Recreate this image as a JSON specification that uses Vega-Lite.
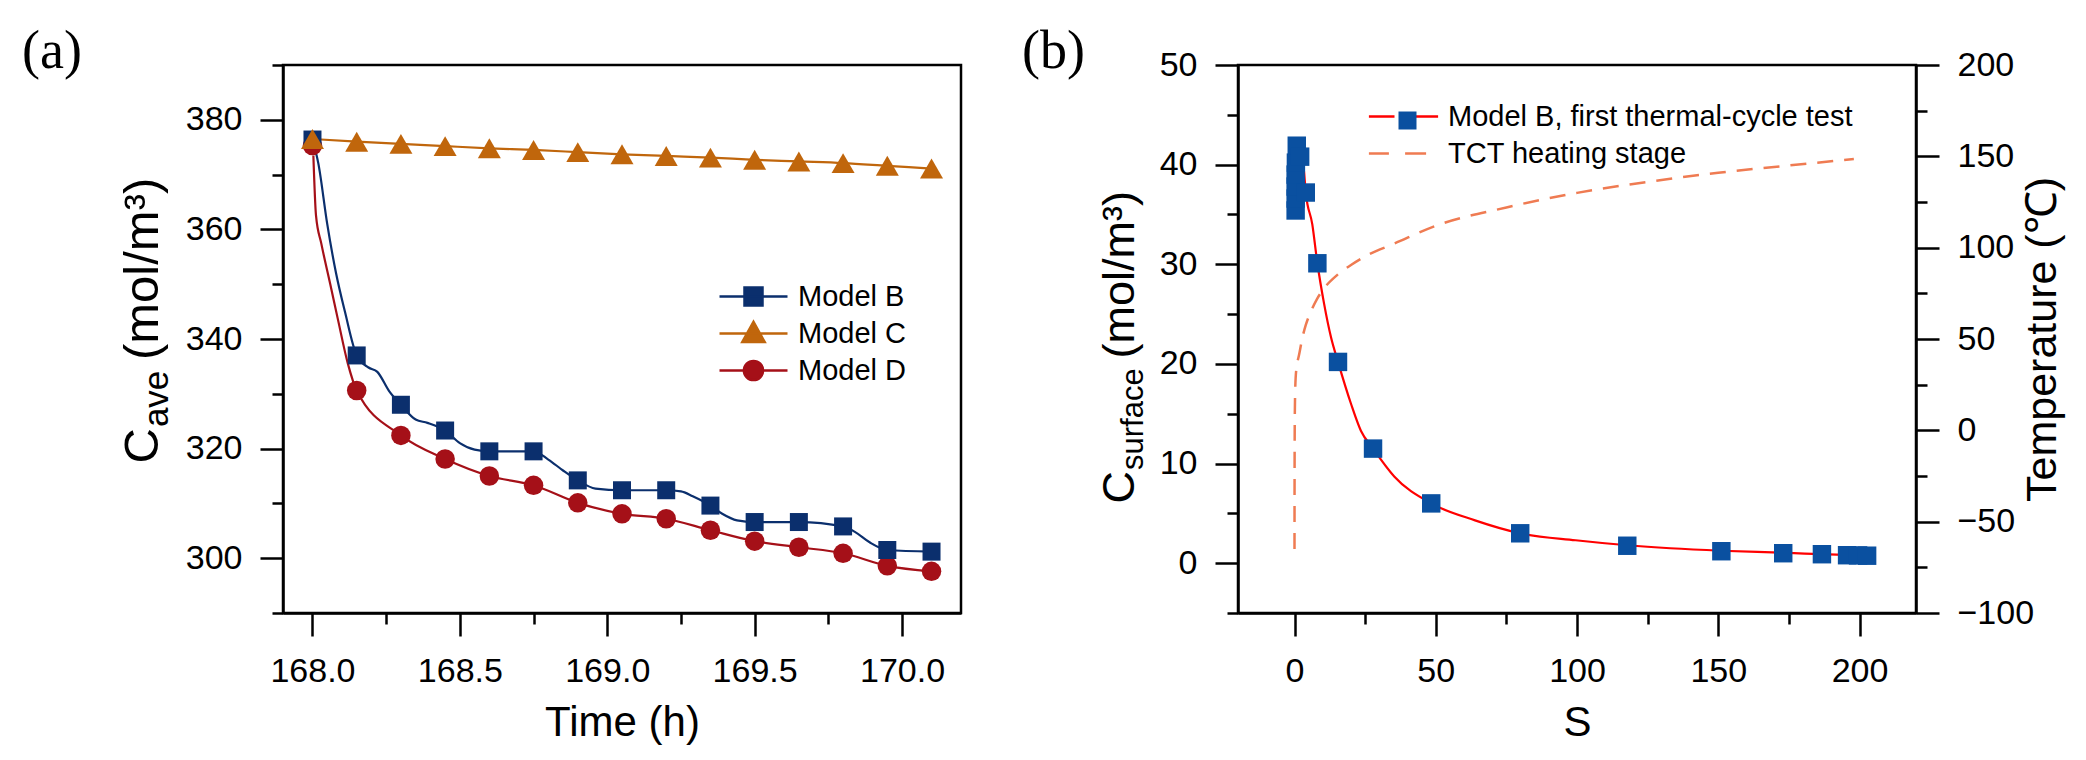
{
  "$schema": "https://vega.github.io/schema/vega-lite/v6.json",
  "padding": {"left": 20, "top": 23, "right": 0, "bottom": 0},
  "background": "white",
  "spacing": 57,
  "datasets": {
    "ptsA": [
      {"t": 168.0, "c": 375.3, "model": "Model D"}, {"t": 168.15, "c": 330.6, "model": "Model D"}, {"t": 168.3, "c": 322.4, "model": "Model D"}, {"t": 168.45, "c": 318.1, "model": "Model D"}, {"t": 168.6, "c": 315.0, "model": "Model D"}, {"t": 168.75, "c": 313.3, "model": "Model D"}, {"t": 168.9, "c": 310.1, "model": "Model D"}, {"t": 169.05, "c": 308.1, "model": "Model D"}, {"t": 169.2, "c": 307.2, "model": "Model D"}, {"t": 169.35, "c": 305.1, "model": "Model D"}, {"t": 169.5, "c": 303.1, "model": "Model D"}, {"t": 169.65, "c": 302.0, "model": "Model D"}, {"t": 169.8, "c": 300.9, "model": "Model D"}, {"t": 169.95, "c": 298.6, "model": "Model D"}, {"t": 170.1, "c": 297.6, "model": "Model D"},
      {"t": 168.0, "c": 376.4, "model": "Model B"}, {"t": 168.15, "c": 337.0, "model": "Model B"}, {"t": 168.3, "c": 328.0, "model": "Model B"}, {"t": 168.45, "c": 323.3, "model": "Model B"}, {"t": 168.6, "c": 319.5, "model": "Model B"}, {"t": 168.75, "c": 319.5, "model": "Model B"}, {"t": 168.9, "c": 314.2, "model": "Model B"}, {"t": 169.05, "c": 312.4, "model": "Model B"}, {"t": 169.2, "c": 312.4, "model": "Model B"}, {"t": 169.35, "c": 309.6, "model": "Model B"}, {"t": 169.5, "c": 306.6, "model": "Model B"}, {"t": 169.65, "c": 306.6, "model": "Model B"}, {"t": 169.8, "c": 305.8, "model": "Model B"}, {"t": 169.95, "c": 301.5, "model": "Model B"}, {"t": 170.1, "c": 301.2, "model": "Model B"},
      {"t": 168.0, "c": 376.5, "model": "Model C"}, {"t": 168.15, "c": 376.0, "model": "Model C"}, {"t": 168.3, "c": 375.6, "model": "Model C"}, {"t": 168.45, "c": 375.2, "model": "Model C"}, {"t": 168.6, "c": 374.8, "model": "Model C"}, {"t": 168.75, "c": 374.5, "model": "Model C"}, {"t": 168.9, "c": 374.1, "model": "Model C"}, {"t": 169.05, "c": 373.7, "model": "Model C"}, {"t": 169.2, "c": 373.4, "model": "Model C"}, {"t": 169.35, "c": 373.1, "model": "Model C"}, {"t": 169.5, "c": 372.7, "model": "Model C"}, {"t": 169.65, "c": 372.4, "model": "Model C"}, {"t": 169.8, "c": 372.1, "model": "Model C"}, {"t": 169.95, "c": 371.6, "model": "Model C"}, {"t": 170.1, "c": 371.1, "model": "Model C"}
    ],
    "linesA": [
      {"t": 168.0, "c": 376.4, "model": "Model B"}, {"t": 168.02, "c": 372.0, "model": "Model B"}, {"t": 168.05, "c": 361.0, "model": "Model B"}, {"t": 168.08, "c": 352.0, "model": "Model B"}, {"t": 168.11, "c": 345.0, "model": "Model B"}, {"t": 168.15, "c": 337.0, "model": "Model B"}, {"t": 168.19, "c": 334.8, "model": "Model B"}, {"t": 168.22, "c": 334.0, "model": "Model B"}, {"t": 168.26, "c": 330.5, "model": "Model B"}, {"t": 168.3, "c": 328.0, "model": "Model B"}, {"t": 168.35, "c": 325.3, "model": "Model B"}, {"t": 168.39, "c": 324.7, "model": "Model B"}, {"t": 168.45, "c": 323.3, "model": "Model B"}, {"t": 168.5, "c": 321.0, "model": "Model B"}, {"t": 168.55, "c": 319.8, "model": "Model B"}, {"t": 168.6, "c": 319.5, "model": "Model B"}, {"t": 168.75, "c": 319.5, "model": "Model B"}, {"t": 168.8, "c": 318.0, "model": "Model B"}, {"t": 168.85, "c": 316.0, "model": "Model B"}, {"t": 168.9, "c": 314.2, "model": "Model B"}, {"t": 168.96, "c": 312.7, "model": "Model B"}, {"t": 169.05, "c": 312.4, "model": "Model B"}, {"t": 169.2, "c": 312.4, "model": "Model B"}, {"t": 169.25, "c": 312.2, "model": "Model B"}, {"t": 169.29, "c": 311.3, "model": "Model B"}, {"t": 169.35, "c": 309.6, "model": "Model B"}, {"t": 169.39, "c": 308.1, "model": "Model B"}, {"t": 169.44, "c": 306.9, "model": "Model B"}, {"t": 169.5, "c": 306.6, "model": "Model B"}, {"t": 169.65, "c": 306.6, "model": "Model B"}, {"t": 169.8, "c": 305.8, "model": "Model B"}, {"t": 169.84, "c": 304.8, "model": "Model B"}, {"t": 169.89, "c": 302.9, "model": "Model B"}, {"t": 169.95, "c": 301.5, "model": "Model B"}, {"t": 170.1, "c": 301.2, "model": "Model B"},
      {"t": 168.0, "c": 376.5, "model": "Model C"}, {"t": 168.15, "c": 376.0, "model": "Model C"}, {"t": 168.3, "c": 375.6, "model": "Model C"}, {"t": 168.45, "c": 375.2, "model": "Model C"}, {"t": 168.6, "c": 374.8, "model": "Model C"}, {"t": 168.75, "c": 374.5, "model": "Model C"}, {"t": 168.9, "c": 374.1, "model": "Model C"}, {"t": 169.05, "c": 373.7, "model": "Model C"}, {"t": 169.2, "c": 373.4, "model": "Model C"}, {"t": 169.35, "c": 373.1, "model": "Model C"}, {"t": 169.5, "c": 372.7, "model": "Model C"}, {"t": 169.65, "c": 372.4, "model": "Model C"}, {"t": 169.8, "c": 372.1, "model": "Model C"}, {"t": 169.95, "c": 371.6, "model": "Model C"}, {"t": 170.1, "c": 371.1, "model": "Model C"},
      {"t": 168.003, "c": 373.5, "model": "Model D"}, {"t": 168.012, "c": 362.5, "model": "Model D"}, {"t": 168.03, "c": 357.4, "model": "Model D"}, {"t": 168.06, "c": 350.1, "model": "Model D"}, {"t": 168.087, "c": 343.4, "model": "Model D"}, {"t": 168.12, "c": 335.5, "model": "Model D"}, {"t": 168.15, "c": 330.6, "model": "Model D"}, {"t": 168.3, "c": 322.4, "model": "Model D"}, {"t": 168.45, "c": 318.1, "model": "Model D"}, {"t": 168.6, "c": 315.0, "model": "Model D"}, {"t": 168.75, "c": 313.3, "model": "Model D"}, {"t": 168.9, "c": 310.1, "model": "Model D"}, {"t": 169.05, "c": 308.1, "model": "Model D"}, {"t": 169.2, "c": 307.2, "model": "Model D"}, {"t": 169.35, "c": 305.1, "model": "Model D"}, {"t": 169.5, "c": 303.1, "model": "Model D"}, {"t": 169.65, "c": 302.0, "model": "Model D"}, {"t": 169.8, "c": 300.9, "model": "Model D"}, {"t": 169.95, "c": 298.6, "model": "Model D"}, {"t": 170.1, "c": 297.6, "model": "Model D"}
    ],
    "ptsB": [
      {"s": 0.4, "c": 35.4, "series": "Model B, first thermal-cycle test"}, {"s": 0.4, "c": 36.6, "series": "Model B, first thermal-cycle test"}, {"s": 0.4, "c": 37.8, "series": "Model B, first thermal-cycle test"}, {"s": 0.4, "c": 39.0, "series": "Model B, first thermal-cycle test"}, {"s": 0.5, "c": 40.2, "series": "Model B, first thermal-cycle test"}, {"s": 0.8, "c": 41.9, "series": "Model B, first thermal-cycle test"}, {"s": 2.0, "c": 40.8, "series": "Model B, first thermal-cycle test"}, {"s": 4.0, "c": 37.2, "series": "Model B, first thermal-cycle test"}, {"s": 8.1, "c": 30.1, "series": "Model B, first thermal-cycle test"}, {"s": 15.4, "c": 20.2, "series": "Model B, first thermal-cycle test"}, {"s": 27.8, "c": 11.5, "series": "Model B, first thermal-cycle test"}, {"s": 48.4, "c": 6.0, "series": "Model B, first thermal-cycle test"}, {"s": 79.9, "c": 3.0, "series": "Model B, first thermal-cycle test"}, {"s": 117.8, "c": 1.75, "series": "Model B, first thermal-cycle test"}, {"s": 151.1, "c": 1.2, "series": "Model B, first thermal-cycle test"}, {"s": 173.0, "c": 1.0, "series": "Model B, first thermal-cycle test"}, {"s": 186.7, "c": 0.9, "series": "Model B, first thermal-cycle test"}, {"s": 195.6, "c": 0.8, "series": "Model B, first thermal-cycle test"}, {"s": 199.5, "c": 0.78, "series": "Model B, first thermal-cycle test"}, {"s": 202.7, "c": 0.75, "series": "Model B, first thermal-cycle test"}
    ],
    "fitB": [
      {"s": 3.4, "c": 39.3, "series": "Model B, first thermal-cycle test"}, {"s": 4.0, "c": 37.2, "series": "Model B, first thermal-cycle test"}, {"s": 6.3, "c": 34.0, "series": "Model B, first thermal-cycle test"}, {"s": 8.1, "c": 30.1, "series": "Model B, first thermal-cycle test"}, {"s": 10.5, "c": 26.0, "series": "Model B, first thermal-cycle test"}, {"s": 12.9, "c": 22.7, "series": "Model B, first thermal-cycle test"}, {"s": 15.4, "c": 20.2, "series": "Model B, first thermal-cycle test"}, {"s": 20.0, "c": 16.0, "series": "Model B, first thermal-cycle test"}, {"s": 23.5, "c": 13.3, "series": "Model B, first thermal-cycle test"}, {"s": 27.8, "c": 11.5, "series": "Model B, first thermal-cycle test"}, {"s": 35.3, "c": 8.7, "series": "Model B, first thermal-cycle test"}, {"s": 48.4, "c": 6.0, "series": "Model B, first thermal-cycle test"}, {"s": 63.9, "c": 4.3, "series": "Model B, first thermal-cycle test"}, {"s": 79.9, "c": 3.0, "series": "Model B, first thermal-cycle test"}, {"s": 99.5, "c": 2.3, "series": "Model B, first thermal-cycle test"}, {"s": 117.8, "c": 1.8, "series": "Model B, first thermal-cycle test"}, {"s": 133.0, "c": 1.5, "series": "Model B, first thermal-cycle test"}, {"s": 151.0, "c": 1.25, "series": "Model B, first thermal-cycle test"}, {"s": 173.0, "c": 1.05, "series": "Model B, first thermal-cycle test"}, {"s": 192.0, "c": 0.85, "series": "Model B, first thermal-cycle test"}, {"s": 202.0, "c": 0.78, "series": "Model B, first thermal-cycle test"}
    ],
    "tempB": [
      {"s": 0.0, "temp": -65, "series": "TCT heating stage"}, {"s": 0.03, "temp": -22, "series": "TCT heating stage"}, {"s": 0.12, "temp": 10, "series": "TCT heating stage"}, {"s": 0.4, "temp": 28.5, "series": "TCT heating stage"}, {"s": 0.9, "temp": 36, "series": "TCT heating stage"}, {"s": 1.6, "temp": 41.2, "series": "TCT heating stage"}, {"s": 2.7, "temp": 50, "series": "TCT heating stage"}, {"s": 4.0, "temp": 57.7, "series": "TCT heating stage"}, {"s": 5.8, "temp": 65, "series": "TCT heating stage"}, {"s": 8.0, "temp": 72, "series": "TCT heating stage"}, {"s": 10.5, "temp": 77.8, "series": "TCT heating stage"}, {"s": 15.1, "temp": 85, "series": "TCT heating stage"}, {"s": 20.0, "temp": 90.5, "series": "TCT heating stage"}, {"s": 25.9, "temp": 96, "series": "TCT heating stage"}, {"s": 35.0, "temp": 102, "series": "TCT heating stage"}, {"s": 50.0, "temp": 112, "series": "TCT heating stage"}, {"s": 75.0, "temp": 122, "series": "TCT heating stage"}, {"s": 100.0, "temp": 130, "series": "TCT heating stage"}, {"s": 125.0, "temp": 136, "series": "TCT heating stage"}, {"s": 150.0, "temp": 141, "series": "TCT heating stage"}, {"s": 175.0, "temp": 145, "series": "TCT heating stage"}, {"s": 198.0, "temp": 148.5, "series": "TCT heating stage"}
    ]
  },
  "resolve": {"scale": {"color": "independent", "shape": "independent", "size": "independent"}},
  "hconcat": [
    {
      "width": 678,
      "height": 548,
      "title": {"text": "(a)", "anchor": "start", "frame": "group", "font": "Liberation Serif", "fontSize": 54, "fontWeight": "normal", "color": "black", "baseline": "alphabetic", "offset": -58, "dx": -261},
      "layer": [
        {
          "data": {"name": "linesA"},
          "mark": {"type": "line", "interpolate": "monotone", "strokeWidth": 2.2},
          "encoding": {
            "x": {"field": "t", "type": "quantitative", "scale": {"domain": [167.9, 170.2], "nice": false, "zero": false}, "axis": {"orient": "bottom", "values": [168.25, 168.75, 169.25, 169.75], "tickSize": 11, "labels": false, "domain": false, "title": null}},
            "y": {"field": "c", "type": "quantitative", "scale": {"domain": [290, 390], "nice": false, "zero": false}, "axis": {"orient": "left", "values": [290, 310, 330, 350, 370, 390], "tickSize": 11, "labels": false, "domain": false, "title": "ave", "titleFontSize": 35, "titleAngle": 270, "titleBaseline": "alphabetic", "titleAlign": "left", "titleX": -115.5, "titleY": 361.6}},
            "color": {"field": "model", "type": "nominal", "scale": {"domain": ["Model B", "Model C", "Model D"], "range": ["#0b2f6d", "#c0660c", "#a51018"]},
              "legend": {"orient": "none", "legendX": 449, "legendY": 210, "title": null, "padding": 0, "symbolSize": 1600, "labelOffset": 23, "rowPadding": -4, "labelLimit": 0, "labelFontSize": 29, "labelFont": "Liberation Sans", "labelColor": "black",
                "encode": {"symbols": {"update": {
                  "shape": {"signal": "datum.value === 'Model B' ? 'M-1.7,0H1.7M-0.45,-0.45H0.45V0.45H-0.45Z' : datum.value === 'Model C' ? 'M-1.7,0H1.7M0,-0.58L0.56,0.43L-0.56,0.43Z' : 'M-1.7,0H1.7M-0.48,0A0.48,0.48,0,1,0,0.48,0A0.48,0.48,0,1,0,-0.48,0Z'"},
                  "fill": {"signal": "datum.value === 'Model B' ? '#0b2f6d' : datum.value === 'Model C' ? '#c0660c' : '#a51018'"},
                  "stroke": {"signal": "datum.value === 'Model B' ? '#0b2f6d' : datum.value === 'Model C' ? '#c0660c' : '#a51018'"},
                  "strokeWidth": {"value": 2.5},
                  "size": {"value": 1600},
                  "opacity": {"value": 1}, "fillOpacity": {"value": 1}, "strokeOpacity": {"value": 1}
                }}}
              }},
            "detail": {"field": "model"}
          }
        },
        {
          "data": {"name": "ptsA"},
          "transform": [{"filter": "datum.model === 'Model D'"}],
          "mark": {"type": "point", "filled": true, "opacity": 1, "shape": "circle", "size": 380},
          "encoding": {
            "x": {"field": "t", "type": "quantitative", "scale": {"domain": [167.9, 170.2], "nice": false, "zero": false}, "axis": null},
            "y": {"field": "c", "type": "quantitative", "scale": {"domain": [290, 390], "nice": false, "zero": false}, "axis": null},
            "color": {"field": "model", "type": "nominal", "scale": {"domain": ["Model B", "Model C", "Model D"], "range": ["#0b2f6d", "#c0660c", "#a51018"]}}
          }
        },
        {
          "data": {"name": "ptsA"},
          "transform": [{"filter": "datum.model === 'Model B'"}],
          "mark": {"type": "point", "filled": true, "opacity": 1, "shape": "square", "size": 324},
          "encoding": {
            "x": {"field": "t", "type": "quantitative", "scale": {"domain": [167.9, 170.2], "nice": false, "zero": false}, "axis": null},
            "y": {"field": "c", "type": "quantitative", "scale": {"domain": [290, 390], "nice": false, "zero": false}, "axis": null},
            "color": {"field": "model", "type": "nominal", "scale": {"domain": ["Model B", "Model C", "Model D"], "range": ["#0b2f6d", "#c0660c", "#a51018"]}}
          }
        },
        {
          "data": {"name": "ptsA"},
          "transform": [{"filter": "datum.model === 'Model C'"}],
          "mark": {"type": "point", "filled": true, "opacity": 1, "shape": "triangle-up", "size": 529},
          "encoding": {
            "x": {"field": "t", "type": "quantitative", "scale": {"domain": [167.9, 170.2], "nice": false, "zero": false}, "axis": {"orient": "bottom", "values": [168, 168.5, 169, 169.5, 170], "format": ".1f", "title": "Time (h)", "titlePadding": 14}},
            "y": {"field": "c", "type": "quantitative", "scale": {"domain": [290, 390], "nice": false, "zero": false}, "axis": {"orient": "left", "values": [300, 320, 340, 360, 380], "title": "C\u00a0\u00a0\u00a0\u00a0\u00a0(mol/m³)", "titleFontSize": 49, "titleAngle": 270, "titleBaseline": "alphabetic", "titleAlign": "left", "titleX": -125.5, "titleY": 398}},
            "color": {"field": "model", "type": "nominal", "scale": {"domain": ["Model B", "Model C", "Model D"], "range": ["#0b2f6d", "#c0660c", "#a51018"]}}
          }
        }
      ],
      "resolve": {"axis": {"x": "independent", "y": "independent"}}
    },
    {
      "width": 678,
      "height": 548,
      "title": {"text": "(b)", "anchor": "start", "frame": "group", "font": "Liberation Serif", "fontSize": 54, "fontWeight": "normal", "color": "black", "baseline": "alphabetic", "offset": -74, "dx": -216},
      "layer": [
        {
          "data": {"name": "fitB"},
          "mark": {"type": "line", "interpolate": "monotone", "strokeWidth": 2.2},
          "encoding": {
            "x": {"field": "s", "type": "quantitative", "scale": {"domain": [-20, 220], "nice": false, "zero": false}, "axis": {"orient": "bottom", "values": [25, 75, 125, 175], "tickSize": 11, "labels": false, "domain": false, "title": null}},
            "y": {"field": "c", "type": "quantitative", "scale": {"domain": [-5, 50], "nice": false, "zero": false}, "axis": {"orient": "left", "values": [-5, 5, 15, 25, 35, 45], "tickSize": 11, "labels": false, "domain": false, "title": "surface", "titleFontSize": 31, "titleAngle": 270, "titleBaseline": "alphabetic", "titleAlign": "left", "titleX": -95.4, "titleY": 404.5}},
            "color": {"field": "series", "type": "nominal", "scale": {"domain": ["Model B, first thermal-cycle test", "TCT heating stage"], "range": ["#ff0000", "#ef7b52"]},
              "legend": {"orient": "none", "legendX": 144, "legendY": 30, "title": null, "padding": 0, "symbolSize": 1600, "labelOffset": 23, "rowPadding": -5, "labelLimit": 0, "labelFontSize": 29, "labelFont": "Liberation Sans", "labelColor": "black",
                "encode": {"symbols": {"update": {
                  "shape": {"signal": "datum.value === 'TCT heating stage' ? 'M-1.73,0H-0.73M0.08,0H1.13' : 'M-1.73,0H-0.45M0.45,0H1.73'"},
                  "stroke": {"signal": "datum.value === 'TCT heating stage' ? '#ef7b52' : '#ff0000'"},
                  "fill": {"value": "transparent"},
                  "strokeWidth": {"value": 2.5},
                  "opacity": {"value": 1}, "strokeOpacity": {"value": 1}
                }}}
              }}
          }
        },
        {
          "data": {"name": "ptsB"},
          "mark": {"type": "point", "filled": true, "opacity": 1, "size": 340, "color": "#0a50a0"},
          "encoding": {
            "x": {"field": "s", "type": "quantitative", "scale": {"domain": [-20, 220], "nice": false, "zero": false}, "axis": {"orient": "bottom", "values": [0, 50, 100, 150, 200], "title": "S", "titlePadding": 14}},
            "y": {"field": "c", "type": "quantitative", "scale": {"domain": [-5, 50], "nice": false, "zero": false}, "axis": {"orient": "left", "values": [0, 10, 20, 30, 40, 50], "title": "C\u00a0\u00a0\u00a0\u00a0\u00a0\u00a0\u00a0\u00a0\u00a0(mol/m³)", "titleFontSize": 45, "titleAngle": 270, "titleBaseline": "alphabetic", "titleAlign": "left", "titleX": -104.4, "titleY": 438}},
            "shape": {"field": "series", "type": "nominal", "scale": {"domain": ["Model B, first thermal-cycle test"], "range": ["square"]},
              "legend": {"orient": "none", "legendX": 155, "legendY": 41, "title": null, "padding": 0, "symbolSize": 324, "labelExpr": "''",
                "encode": {"symbols": {"update": {"fill": {"value": "#0a50a0"}, "stroke": {"value": "transparent"}, "opacity": {"value": 1}, "fillOpacity": {"value": 1}}}}
              }}
          }
        },
        {
          "data": {"name": "tempB"},
          "mark": {"type": "line", "interpolate": "monotone", "strokeWidth": 2.5, "strokeDash": [16, 11]},
          "encoding": {
            "x": {"field": "s", "type": "quantitative", "scale": {"domain": [-20, 220], "nice": false, "zero": false}, "axis": null},
            "y": {"field": "temp", "type": "quantitative", "scale": {"domain": [-100, 200], "nice": false, "zero": false}, "axis": {"orient": "right", "values": [-100, -50, 0, 50, 100, 150, 200], "title": "Temperature (℃)", "titleFontSize": 43, "titleAngle": 270, "titleBaseline": "alphabetic", "titleAlign": "center", "titleX": 139, "titleY": 274}},
            "color": {"field": "series", "type": "nominal", "scale": {"domain": ["Model B, first thermal-cycle test", "TCT heating stage"], "range": ["#ff0000", "#ef7b52"]}}
          }
        },
        {
          "data": {"name": "tempB"},
          "mark": {"type": "point", "opacity": 0},
          "encoding": {
            "x": {"field": "s", "type": "quantitative", "scale": {"domain": [-20, 220], "nice": false, "zero": false}, "axis": null},
            "y": {"field": "temp", "type": "quantitative", "scale": {"domain": [-100, 200], "nice": false, "zero": false}, "axis": {"orient": "right", "values": [-75, -25, 25, 75, 125, 175], "tickSize": 11, "labels": false, "domain": false, "title": null}}
          }
        }
      ],
      "resolve": {"scale": {"y": "independent"}, "axis": {"x": "independent", "y": "independent"}}
    }
  ],
  "config": {
    "view": {"stroke": "black", "strokeWidth": 2.5},
    "axis": {"domainColor": "black", "domainWidth": 2.5, "tickColor": "black", "tickWidth": 2.5, "tickSize": 23, "labelFont": "Liberation Sans", "labelFontSize": 34, "labelColor": "black", "labelPadding": 18, "labelFlush": false, "labelOverlap": false, "titleFont": "Liberation Sans", "titleFontSize": 42, "titleFontWeight": "normal", "titleColor": "black", "grid": false},
    "legend": {"labelFont": "Liberation Sans", "labelFontSize": 29, "labelColor": "black"}
  }
}
